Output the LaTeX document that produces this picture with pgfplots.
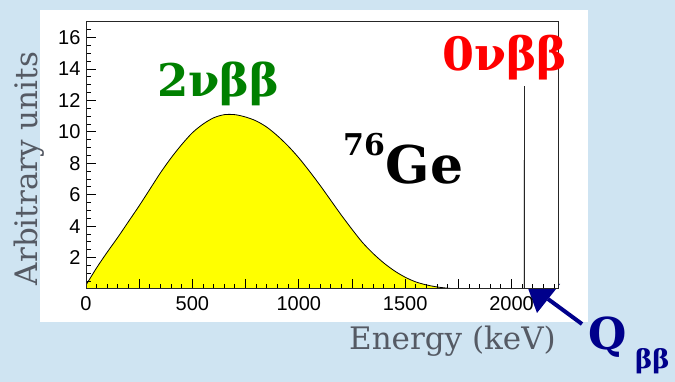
\documentclass[border=0pt]{standalone}
\usepackage{fontspec}
\usepackage{pgfplots}
\pgfplotsset{compat=1.18}
\usepackage{pgfplotstable}
\setmainfont{DejaVu Serif}
\newfontfamily\tickfont{Liberation Sans}
\definecolor{bgblue}{RGB}{207,228,242}
\definecolor{labgray}{RGB}{85,90,100}
\definecolor{qnavy}{RGB}{0,0,139}
\definecolor{nugreen}{RGB}{0,128,0}
\definecolor{fillyellow}{RGB}{255,255,0}

\pgfplotstableread{
E y
0 0.25
50 1.35
100 2.35
150 3.3
200 4.3
250 5.3
300 6.35
350 7.4
400 8.35
450 9.2
500 9.95
550 10.5
600 10.9
650 11.1
700 11.1
750 10.95
800 10.7
850 10.3
900 9.75
950 9.1
1000 8.35
1050 7.5
1100 6.6
1150 5.65
1200 4.7
1250 3.8
1300 2.95
1350 2.25
1400 1.65
1450 1.15
1500 0.75
1550 0.45
1600 0.26
1650 0.13
1700 0.05
1750 0
}\twonu

\begin{document}
\begin{tikzpicture}[x=1pt,y=1pt]
\useasboundingbox (0,0) rectangle (675,382);
\fill[bgblue] (0,0) rectangle (675,382);
\fill[white] (40,60) rectangle (588,372);
\draw[qnavy, line width=4pt] (582,58) -- (548,83);
\fill[qnavy] (525,102) -- (537,69) -- (560,98) -- cycle;
\begin{axis}[at={(86pt,93pt)}, anchor=south west, scale only axis,
  width=472pt, height=267pt,
  xmin=0, xmax=2218, ymin=0, ymax=17,
  axis background/.style={fill=white},
  axis on top,
  xtick={0,250,...,2000}, xticklabels={0,,500,,1000,,1500,,2000},
  ytick={0,2,...,16}, yticklabels={,2,4,6,8,10,12,14,16},
  minor xtick={50,100,150,200,300,350,400,450,550,600,650,700,800,850,900,950,1050,1100,1150,1200,1300,1350,1400,1450,1550,1600,1650,1700,1800,1850,1900,1950,2050,2100,2150,2200},
  minor ytick={0.5,1,1.5,2.5,3,3.5,4.5,5,5.5,6.5,7,7.5,8.5,9,9.5,10.5,11,11.5,12.5,13,13.5,14.5,15,15.5,16.5},
  xtick pos=bottom, ytick pos=left, tick align=inside,
  major tick length=10pt, minor tick length=5pt,
  tick style={black, line width=1pt},
  axis line style={black!85, line width=1pt},
  tick label style={font=\tickfont\fontsize{20}{20}\selectfont},
  /pgf/number format/assume math mode=true,
  xticklabel style={yshift=-4pt}, yticklabel style={xshift=-2pt},
]
\addplot[fill=fillyellow, draw=black, line width=0.8pt, smooth, tension=0.5] table[x=E,y=y]{\twonu} \closedcycle;
\addplot[ycomb, no marks, gray!30, line width=2.5pt] coordinates {(2058,8.2)};
\addplot[ycomb, no marks, black!85, line width=1.6pt] coordinates {(2060,12.9)};
\end{axis}
\node[anchor=base west, inner sep=0, font=\bfseries\fontsize{45}{45}\selectfont, text=nugreen] at (157,285) {2νββ};
\node[anchor=base west, inner sep=0, font=\bfseries\fontsize{46}{46}\selectfont, text=red] at (442,311) {0νββ};
\node[anchor=base west, inner sep=0, font=\bfseries\fontsize{52}{52}\selectfont] at (343,198) {{\fontsize{30}{30}\selectfont\raisebox{28pt}{76}}\hspace{1pt}Ge};
\node[rotate=90, anchor=base, inner sep=0, font=\fontsize{31}{31}\selectfont, text=labgray] at (37,213.5) {Arbitrary units};
\node[anchor=base east, inner sep=0, font=\fontsize{31}{31}\selectfont, text=labgray] at (556,32) {Energy (keV)};
\node[anchor=base west, inner sep=0, font=\bfseries\fontsize{44}{44}\selectfont, text=qnavy] at (588,32) {Q};
\node[anchor=base west, inner sep=0, font=\bfseries\fontsize{26}{26}\selectfont, text=qnavy] at (635,13) {ββ};
\end{tikzpicture}
\end{document}
